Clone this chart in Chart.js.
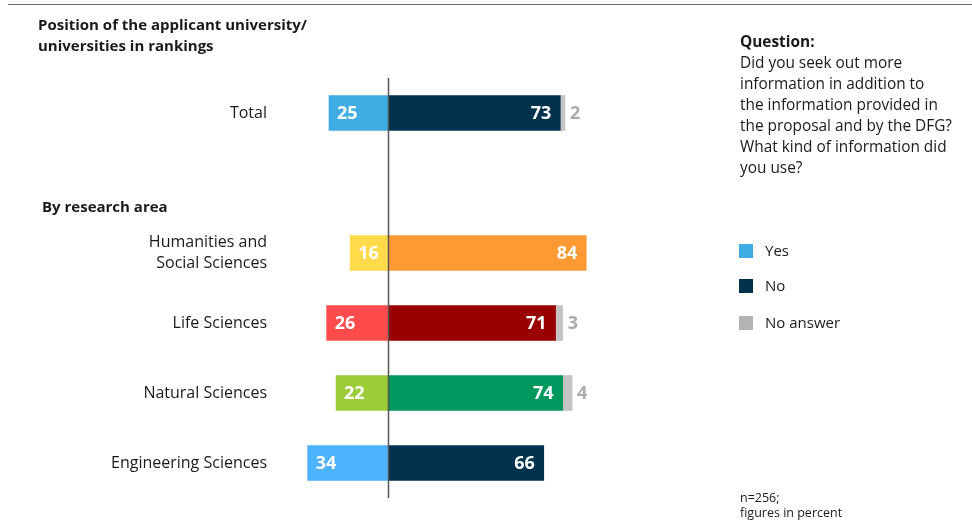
<!DOCTYPE html>
<html>
<head>
<meta charset="utf-8">
<script src="https://cdn.jsdelivr.net/npm/chart.js@4/dist/chart.umd.min.js"></script>
<style>
  body { margin: 0; background: #fff; font-family: "Open Sans", sans-serif; color: #1a1a1a; }
  #wrap { position: relative; width: 972px; height: 529px; overflow: hidden; }
  #topline { position: absolute; left: 8px; top: 4px; width: 964px; height: 0; border-top: 1.5px solid #666; }
  .txt { position: absolute; white-space: nowrap; }
  .bold { font-weight: bold; }
  .sw { position: absolute; width: 14px; height: 14px; }
</style>
</head>
<body>
<div id="wrap">
  <canvas id="chart" width="972" height="529"></canvas>
  <div id="topline"></div>
  <div class="txt bold" style="left:38px; top:14px; font-size:15px; line-height:21px;">Position of the applicant university/<br>universities in rankings</div>
  <div class="txt bold" style="left:42px; top:196px; font-size:15px; line-height:21px;">By research area</div>
  <div class="txt" style="left:740px; top:31px; font-size:15.4px; line-height:21px;"><span class="bold">Question:</span><br>Did you seek out more<br>information in addition to<br>the information provided in<br>the proposal and by the DFG?<br>What kind of information did<br>you use?</div>
  <div id="legend"></div>
  <div class="txt" style="left:740px; top:490px; font-size:12.5px; line-height:15px;">n=256;<br>figures in percent</div>
</div>
<script>
// 行ラベル（2行目は空きスロット）
const categories = ['Total', '', ['Humanities and', 'Social Sciences'], 'Life Sciences', 'Natural Sciences', 'Engineering Sciences'];
const seriesNames = ['Yes', 'No', 'No answer'];
const yesValues = [25, null, 16, 26, 22, 34];
const noValues = [73, null, 84, 71, 74, 66];
const noAnswerValues = [2, null, 0, 3, 4, 0];

// 色
const yesColors = ['#3fade3', '#3fade3', '#ffda4a', '#ff4b4b', '#9ccb38', '#4db3ff'];
const noColors = ['#00324e', '#00324e', '#ff9933', '#990000', '#00985f', '#00324e'];
const legendColors = ['#3fade3', '#00324e', '#b3b3b3'];

// 凡例
const legendTops = [244, 279, 316];
let legendHtml = '';
seriesNames.forEach(function(name, i) {
    legendHtml += '<div class="sw" style="left:739px; top:' + legendTops[i] + 'px; background:' + legendColors[i] + ';"></div>';
    legendHtml += '<div class="txt" style="left:765px; top:' + (legendTops[i] - 4) + 'px; font-size:15px; line-height:21px;">' + name + '</div>';
});
document.getElementById('legend').innerHTML = legendHtml;

Chart.defaults.font.family = '"Open Sans", sans-serif';

// 0の縦線
const zeroLine = {
    id: 'zeroLine',
    afterDatasetsDraw(chart) {
        const x = Math.round(chart.scales.x.getPixelForValue(0)) + 0.5;
        const ctx = chart.ctx;
        ctx.save();
        ctx.strokeStyle = '#555';
        ctx.lineWidth = 1.5;
        ctx.beginPath();
        ctx.moveTo(x, chart.chartArea.top);
        ctx.lineTo(x, chart.chartArea.bottom);
        ctx.stroke();
        ctx.restore();
    }
};

// 数値ラベル
const valueLabels = {
    id: 'valueLabels',
    afterDatasetsDraw(chart) {
        const ctx = chart.ctx;
        ctx.save();
        ctx.font = 'bold 18px "Open Sans", sans-serif';
        ctx.textBaseline = 'middle';
        chart.data.datasets.forEach(function(ds, i) {
            const meta = chart.getDatasetMeta(i);
            meta.data.forEach(function(bar, j) {
                const v = ds.data[j];
                if (v == null || v === 0) return;
                const n = Math.abs(v);
                if (i === 0) {
                    ctx.fillStyle = '#fff';
                    ctx.textAlign = 'left';
                    ctx.fillText(n, bar.x + 8, bar.y + 1);
                } else if (i === 1) {
                    ctx.fillStyle = '#fff';
                    ctx.textAlign = 'right';
                    ctx.fillText(n, bar.x - 9, bar.y + 1);
                } else {
                    ctx.fillStyle = '#aaaaaa';
                    ctx.textAlign = 'left';
                    ctx.fillText(n, bar.x + 5, bar.y + 1);
                }
            });
        });
        ctx.restore();
    }
};

let ctx = document.getElementById('chart').getContext('2d');
let chart = new Chart(ctx, {
    type: 'bar',
    data: {
        labels: categories,
        datasets: [{
            label: seriesNames[0],
            data: yesValues.map(function(v) { return v == null ? null : -v; }),
            backgroundColor: yesColors,
            barThickness: 35
        }, {
            label: seriesNames[1],
            data: noValues,
            backgroundColor: noColors,
            barThickness: 35
        }, {
            label: seriesNames[2],
            data: noAnswerValues,
            backgroundColor: '#c4c4c4',
            barThickness: 35
        }]
    },
    options: {
        indexAxis: 'y',
        responsive: false,
        animation: false,
        layout: { padding: { top: 78, bottom: 31, left: 0, right: 348 } },
        plugins: {
            legend: { display: false },
            tooltip: { enabled: false }
        },
        scales: {
            x: {
                stacked: true,
                min: -50,
                max: 100,
                display: false
            },
            y: {
                stacked: true,
                grid: { display: false, drawTicks: false },
                border: { display: false },
                ticks: {
                    padding: 3,
                    color: '#1a1a1a',
                    font: { size: 16, lineHeight: 1.3 }
                },
                afterFit: function(scale) { scale.width = 270; }
            }
        }
    },
    plugins: [zeroLine, valueLabels]
});
</script>
</body>
</html>
